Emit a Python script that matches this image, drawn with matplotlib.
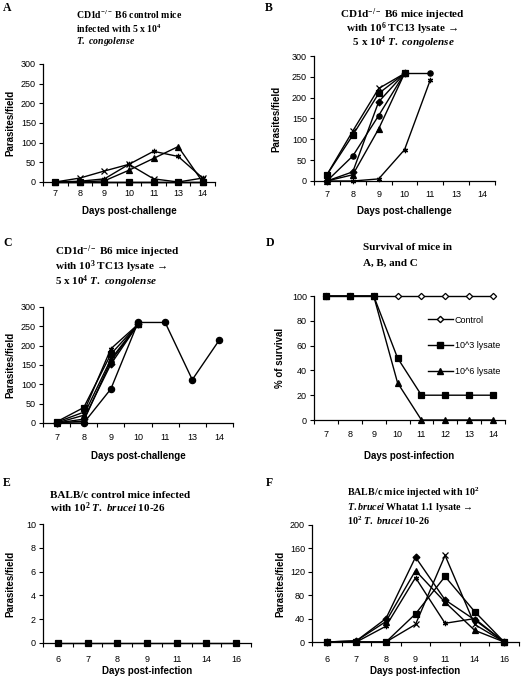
import numpy as np
import matplotlib
matplotlib.use('Agg')
import matplotlib.pyplot as plt
from matplotlib.lines import Line2D

plt.rcParams['font.family'] = ['Liberation Sans', 'DejaVu Sans']
plt.rcParams['mathtext.fontset'] = 'custom'
plt.rcParams['mathtext.rm'] = 'Liberation Serif:bold'
plt.rcParams['mathtext.it'] = 'Liberation Serif:italic:bold'
plt.rcParams['mathtext.bf'] = 'Liberation Serif:bold'

nan = np.nan

# ---------------- data ----------------
# Panel A: CD1d-/- control mice
days_A = ['7', '8', '9', '10', '11', '13', '14']
A_x = [0, 10, 28, 45, 8, 0, 10]
A_star = [0, 2, 8, 45, 78, 65, 10]
A_tri = [0, 0, 3, 30, 60, 90, 0]
A_sq = [0, 0, 0, 0, 0, 0, 0]
A_circ = [0, 0, 0, 0, 0, 0, 0]

# Panel B: 10^6 lysate
days_B = ['7', '8', '9', '10', '11', '13', '14']
B_x = [15, 120, 222, 258, nan, nan, nan]
B_sq = [15, 110, 210, 258, nan, nan, nan]
B_circ = [0, 60, 157, 258, 258, nan, nan]
B_dia = [0, 22, 190, 258, nan, nan, nan]
B_tri = [0, 15, 125, 258, nan, nan, nan]
B_star = [0, 0, 5, 75, 243, nan, nan]

# Panel C: 10^3 lysate
days_C = ['7', '8', '9', '10', '11', '13', '14']
C_circ = [0, 0, 88, 260, 260, 112, 215]
C_star = [2, 28, 192, 255, nan, nan, nan]
C_sq = [3, 40, 178, 255, nan, nan, nan]
C_tri = [0, 20, 165, 255, nan, nan, nan]
C_dia = [0, 10, 152, 255, nan, nan, nan]
C_x = [0, 5, 160, 255, nan, nan, nan]

# Panel D: survival
days_D = ['7', '8', '9', '10', '11', '12', '13', '14']
D_control = [100, 100, 100, 100, 100, 100, 100, 100]
D_lys3 = [100, 100, 100, 50, 20, 20, 20, 20]
D_lys6 = [100, 100, 100, 30, 0, 0, 0, 0]
D_labels = ['Control', '10^3 lysate', '10^6 lysate']

# Panel E: BALB/c control
days_E = ['6', '7', '8', '9', '11', '14', '16']
E_sq = [0, 0, 0, 0, 0, 0, 0]

# Panel F: BALB/c lysate
days_F = ['6', '7', '8', '9', '11', '14', '16']
F_dia = [0, 2, 40, 145, 72, 38, 0]
F_tri = [0, 2, 35, 122, 68, 20, 0]
F_star = [0, 0, 27, 110, 32, 40, 0]
F_sq = [0, 0, 0, 48, 112, 52, 0]
F_x = [0, 0, 0, 30, 148, 30, 0]

# ---------------- layout ----------------
W, H = 524, 679
fig = plt.figure(figsize=(W / 100, H / 100), dpi=100)


def rect(l, r, t, b):
    return [l / W, 1 - b / H, (r - l) / W, (b - t) / H]


STAR = (6, 2, 0)
ARROW = '\u2192'


def setup(ax, cats, ymax, ystep, xlabel, ylabel, ylab_px, xlab_px_y, xpad):
    n = len(cats)
    ax.set_xlim(-0.5, n - 0.5)
    ax.set_ylim(0, ymax)
    ax.set_yticks(np.arange(0, ymax + ystep / 2, ystep))
    ax.set_xticks(np.arange(n + 1) - 0.5)
    ax.set_xticklabels([])
    ax.set_xticks(np.arange(n), minor=True)
    ax.set_xticklabels(cats, minor=True)
    ax.tick_params(axis='x', which='minor', length=0, pad=xpad, labelsize=6.5)
    ax.tick_params(axis='x', which='major', length=3, width=0.8, direction='out')
    ax.tick_params(axis='y', length=3, width=0.8, labelsize=6.5, pad=2)
    for s in ['top', 'right']:
        ax.spines[s].set_visible(False)
    for s in ['left', 'bottom']:
        ax.spines[s].set_linewidth(0.9)
    ax.patch.set_alpha(0)
    ax.set_ylabel(ylabel, fontsize=7, fontweight='bold', va='center')
    ax.set_xlabel(xlabel, fontsize=7, fontweight='bold', va='center')
    pos = ax.get_position()
    l_px = pos.x0 * W
    w_px = pos.width * W
    b_px = (1 - pos.y0) * H
    h_px = pos.height * H
    ax.yaxis.set_label_coords((ylab_px - l_px) / w_px, 0.5)
    ax.xaxis.set_label_coords(0.5, -(xlab_px_y - b_px) / h_px)


def plot(ax, vals, marker, ms=3.8, mfc='black', zorder=3):
    x = np.arange(len(vals))
    ax.plot(x, vals, color='black', lw=1.0, marker=marker, ms=ms,
            mfc=mfc, mec='black', mew=0.9, clip_on=False, zorder=zorder)


def title(lines, x, ys, ha='left', size=8):
    for s, y in zip(lines, ys):
        fig.text(x / W, 1 - y / H, s, ha=ha, va='center',
                 family='Liberation Serif', fontweight='bold', fontsize=size)


def letter(s, x, y):
    fig.text(x / W, 1 - y / H, s, ha='left', va='center',
             family='Liberation Serif', fontweight='bold', fontsize=8.5)


# Panel A
axA = fig.add_axes(rect(43, 215, 64, 182))
setup(axA, days_A, 300, 50, 'Days post-challenge', 'Parasites/field', 10, 211, 4.7)
plot(axA, A_circ, 'o')
plot(axA, A_sq, 's')
plot(axA, A_x, 'x')
plot(axA, A_star, STAR)
plot(axA, A_tri, '^')
letter('A', 3, 8)
title(['CD1d$^{-/-}$ B6 control mice', 'infected with 5 x 10$^4$',
       r'$\mathit{T.\ congolense}$'], 76, [15, 28.5, 42], size=7)

# Panel B
axB = fig.add_axes(rect(314, 495, 56, 181))
setup(axB, days_B, 300, 50, 'Days post-challenge', 'Parasites/field', 276, 211, 6.5)
plot(axB, B_x, 'x')
plot(axB, B_sq, 's')
plot(axB, B_circ, 'o')
plot(axB, B_dia, 'D', ms=3.5)
plot(axB, B_tri, '^')
plot(axB, B_star, STAR)
letter('B', 265, 8)
title(['CD1d$^{-/-}$ B6 mice injected', 'with 10$^6$ TC13 lysate ' + ARROW,
       r' 5 x 10$^4$ $\mathit{T.\ congolense}$'], 402, [15, 29, 43], ha='center')

# Panel C
axC = fig.add_axes(rect(43, 233, 307, 423))
setup(axC, days_C, 300, 50, 'Days post-challenge', 'Parasites/field', 10, 456, 7.5)
plot(axC, C_x, 'x')
plot(axC, C_dia, 'D', ms=3.5)
plot(axC, C_tri, '^')
plot(axC, C_sq, 's')
plot(axC, C_star, STAR)
plot(axC, C_circ, 'o', ms=4.5)
letter('C', 3, 243)
title(['CD1d$^{-/-}$ B6 mice injected', 'with 10$^3$ TC13 lysate ' + ARROW,
       r'5 x 10$^4$ $\mathit{T.\ congolense}$'], 55, [252, 267, 282])

# Panel D
axD = fig.add_axes(rect(314, 505, 296, 420))
setup(axD, days_D, 100, 20, 'Days post-infection', '% of survival', 280, 456, 7.5)
plot(axD, D_control, 'D', ms=3.2, mfc='white', zorder=2)
plot(axD, D_lys6, '^', zorder=3)
plot(axD, D_lys3, 's', zorder=4)
handles = [Line2D([], [], color='black', lw=1.0, marker='D', ms=3.2, mfc='white', mec='black'),
           Line2D([], [], color='black', lw=1.0, marker='s', ms=3.8, mfc='black', mec='black'),
           Line2D([], [], color='black', lw=1.0, marker='^', ms=3.8, mfc='black', mec='black')]
axD.legend(handles, D_labels, loc='upper left',
           bbox_to_anchor=((424 - 314) / 191, 1 - (312 - 296) / 124),
           frameon=False, fontsize=6.5, handlelength=2.8, handletextpad=0.2,
           labelspacing=1.85, borderaxespad=0)
letter('D', 266, 243)
title(['Survival of mice in', 'A, B, and C'], 363, [248, 263])

# Panel E
axE = fig.add_axes(rect(43, 251, 524, 643))
setup(axE, days_E, 10, 2, 'Days post-infection', 'Parasites/field', 10, 671, 9)
plot(axE, E_sq, 's')
letter('E', 3, 483)
title(['BALB/c control mice infected',
       r'with 10$^2$ $\mathit{T.\ brucei}$ 10-26'], 50, [495, 508])

# Panel F
axF = fig.add_axes(rect(312, 519, 525, 642))
setup(axF, days_F, 200, 40, 'Days post-infection', 'Parasites/field', 280, 671, 9)
plot(axF, F_dia, 'D', ms=3.5)
plot(axF, F_tri, '^')
plot(axF, F_star, STAR)
plot(axF, F_sq, 's')
plot(axF, F_x, 'x')
letter('F', 266, 483)
title(['BALB/c mice injected with 10$^2$',
       r'$\mathit{T.brucei}$ Whatat 1.1 lysate ' + ARROW,
       r'10$^2$ $\mathit{T.\ brucei}$ 10-26'], 347, [493, 507, 521], size=7.2)

fig.savefig('out.png', dpi=100)
